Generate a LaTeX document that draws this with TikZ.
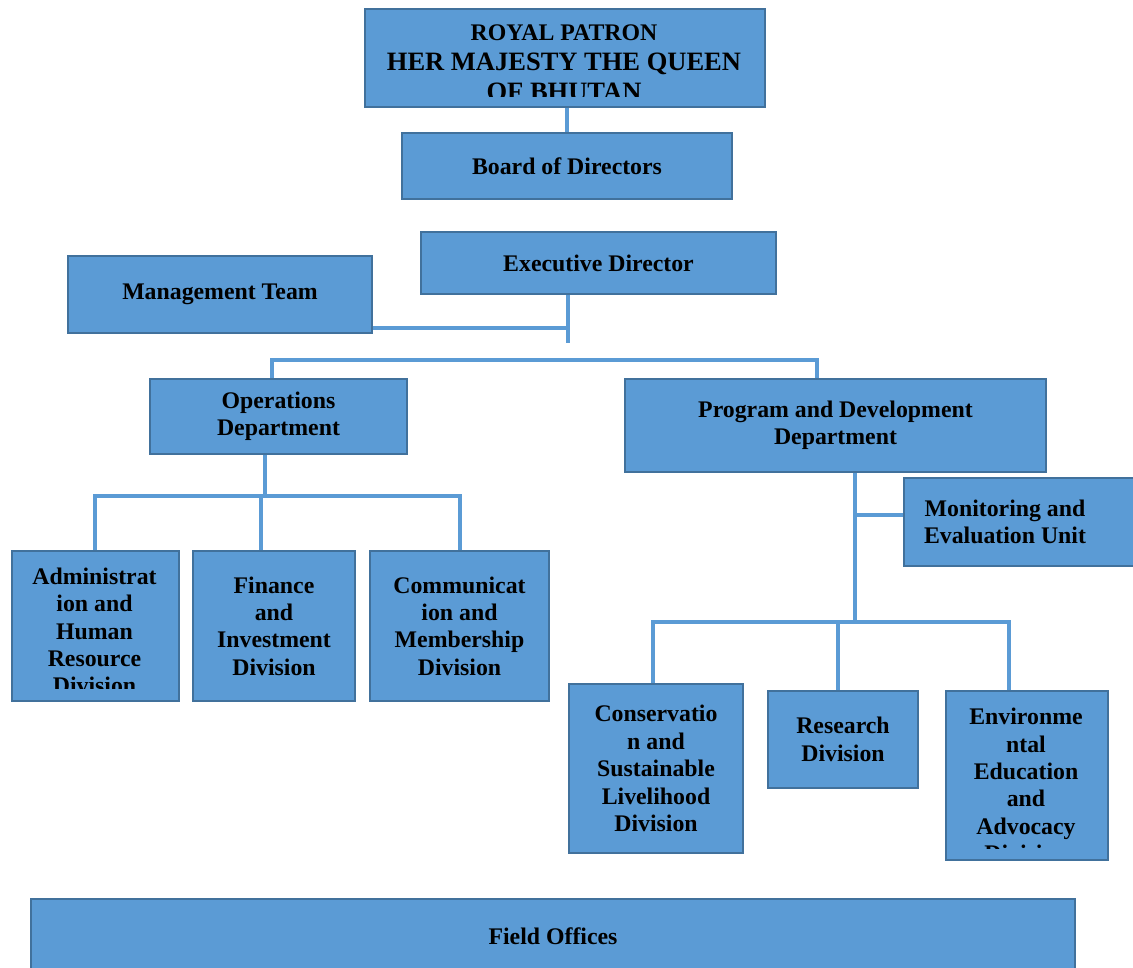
\documentclass[tikz,border=0pt]{standalone}
\usepackage{fontspec}
\setmainfont{Liberation Serif}
\definecolor{boxfill}{HTML}{5B9BD5}
\definecolor{boxline}{HTML}{41719C}
\pgfdeclarelayer{background}
\pgfsetlayers{background,main}
\begin{document}
\begin{tikzpicture}
    [%%%%%%%%%%%%%%%%%%%%%%%%%%%%%%
        x=1pt,y=-1pt,
        box/.style={rectangle,draw=boxline,fill=boxfill,line width=2pt,anchor=north west,inner sep=0pt,
            font=\bfseries\fontsize{23.8}{27.4}\selectfont,align=center},
        lbl/.style={inner sep=0pt,font=\bfseries\fontsize{23.8}{27.4}\selectfont,align=center},
        link/.style={draw=boxfill,line width=3.5pt,line cap=rect}
    ]%%%%%%%%%%%%%%%%%%%%%%%%%%%%%%

\useasboundingbox (0,0) rectangle (1133,968);
\begin{pgfonlayer}{background}
    \fill[white] (0,0) rectangle (1133,968);
\end{pgfonlayer}

% top of the tree
\node[box,minimum width=400pt,minimum height=98pt] (royal) at (364,8) {};
\begin{scope}
    \clip (364,8) rectangle (764,97);
    \node[lbl,font=\bfseries\fontsize{26.5}{30}\selectfont] (royaltext) at (564,63)
        {{\fontsize{23.8}{30}\selectfont ROYAL PATRON}\\HER MAJESTY THE QUEEN\\OF BHUTAN};
\end{scope}
\node[box,minimum width=330pt,minimum height=66pt] (board) at (401,132) {Board of Directors};
\node[box,minimum width=355pt,minimum height=62pt] (exec) at (420,231) {Executive Director};
\node[box,minimum width=304pt,minimum height=77pt] (mgmt) at (67,255) {Management Team};

% departments
\node[box,minimum width=257pt,minimum height=75pt] (ops) at (149,378) {Operations\\Department};
\node[box,minimum width=421pt,minimum height=93pt] (prog) at (624,378) {Program and Development\\Department};

% operations divisions
\node[box,minimum width=167pt,minimum height=150pt] (adm) at (11,550) {};
\begin{scope}
    \clip (11,550) rectangle (178,688);
    \node[lbl] (admtext) at (94.5,631) {Administrat\\ion and\\Human\\Resource\\Division};
\end{scope}
\node[box,minimum width=162pt,minimum height=150pt] (fin) at (192,550) {Finance\\and\\Investment\\Division};
\node[box,minimum width=179pt,minimum height=150pt] (comm) at (369,550) {Communicat\\ion and\\Membership\\Division};

% program units
\node[box,minimum width=240pt,minimum height=88pt] (mon) at (903,477) {};
\node[lbl] (montext) at (1005,522) {Monitoring and\\Evaluation Unit};
\node[box,minimum width=174pt,minimum height=169pt] (cons) at (568,683) {Conservatio\\n and\\Sustainable\\Livelihood\\Division};
\node[box,minimum width=150pt,minimum height=97pt] (res) at (767,690) {Research\\Division};
\node[box,minimum width=162pt,minimum height=169pt] (env) at (945,690) {};
\begin{scope}
    \clip (945,690) rectangle (1107,848);
    \node[lbl] (envtext) at (1026,785) {Environme\\ntal\\Education\\and\\Advocacy\\Division};
\end{scope}

\node[box,minimum width=1044pt,minimum height=74pt] (field) at (30,898) {Field Offices};

% connectors
\begin{pgfonlayer}{background}
    \draw[link] (board.north |- royal.south) -- (board.north);
    \coordinate (edrop) at (568,341);
    \coordinate (mjoin) at (568,328);
    \draw[link] (edrop |- exec.south) -- (edrop);
    \draw[link] (mgmt.east |- mjoin) -- (mjoin);

    \coordinate (opsin) at (272,360);
    \coordinate (progin) at (817,360);
    \draw[link] (opsin |- ops.north) -- (opsin) -- (progin) -- (progin |- prog.north);

    \coordinate (opsbar) at (265,496);
    \draw[link] (opsbar |- ops.south) -- (opsbar);
    \draw[link] (95,0 |- opsbar) -- (460,0 |- opsbar);
    \foreach \x/\n in {95/adm,261/fin,460/comm}
        \draw[link] (\x,0 |- opsbar) -- (\x,0 |- \n.north);

    \coordinate (progbar) at (855,622);
    \coordinate (monin) at (903,515);
    \draw[link] (progbar |- prog.south) -- (progbar);
    \draw[link] (progbar |- monin) -- (monin);
    \draw[link] (653,0 |- progbar) -- (1009,0 |- progbar);
    \foreach \x/\n in {653/cons,838/res,1009/env}
        \draw[link] (\x,0 |- progbar) -- (\x,0 |- \n.north);
\end{pgfonlayer}

\end{tikzpicture}
\end{document}
